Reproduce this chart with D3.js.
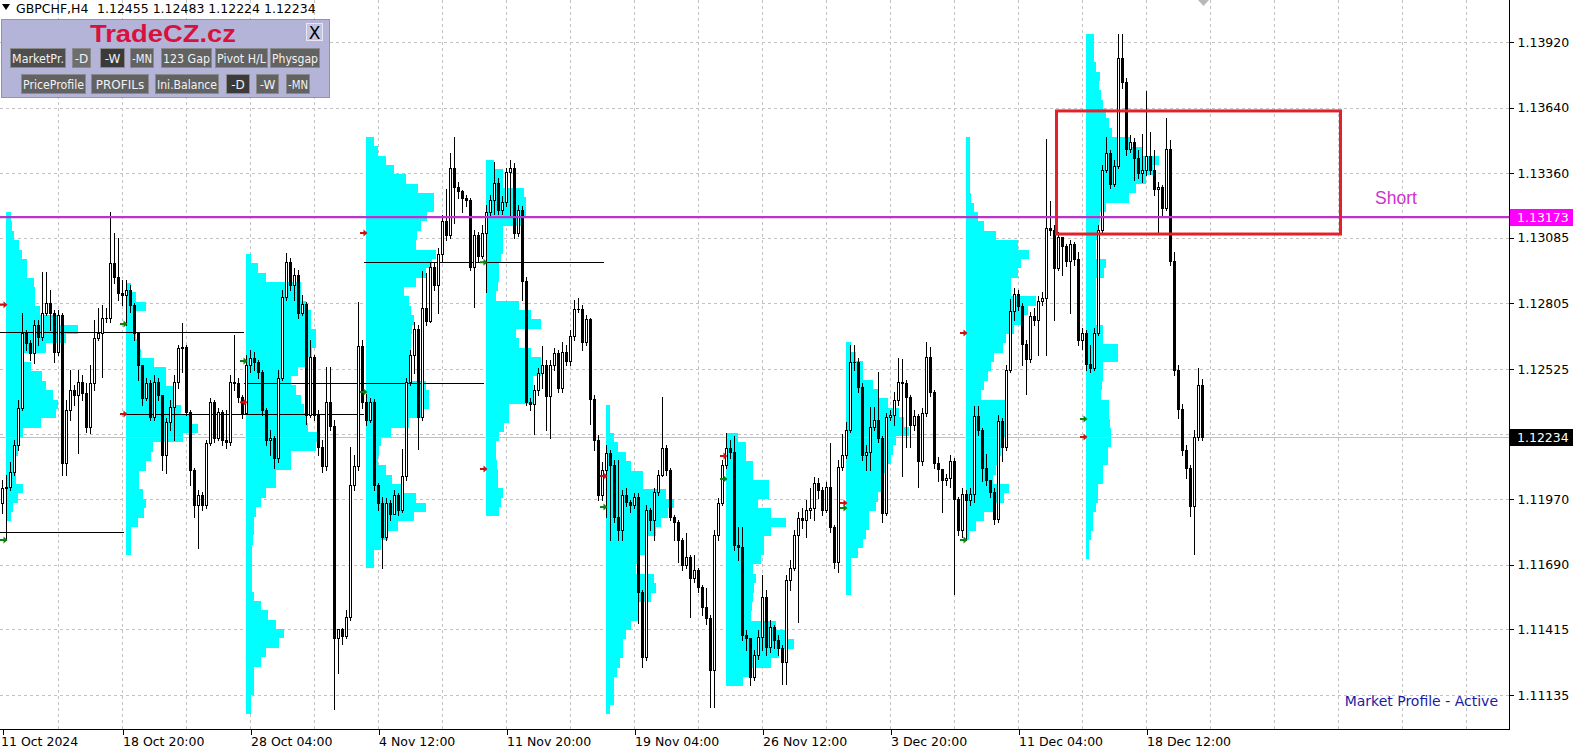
<!DOCTYPE html>
<html><head><meta charset="utf-8">
<script src="https://cdn.jsdelivr.net/npm/d3@7"></script>
<style>html,body{margin:0;padding:0;background:#fff;overflow:hidden}svg{display:block}</style>
</head><body><svg id="c" width="1578" height="756"></svg>
<script>
// ---------------- DATA ----------------
const symbolTitle = "GBPCHF,H4";
const headerQuote = "1.12455 1.12483 1.12224 1.12234";
const firstOpen = 1.11954;
// H4 closes, bar 0 = 11 Oct 20:00, then one line per week (30 bars)
const closes = [
1.12018,1.12022,1.12085,1.12201,1.12359,1.12679,1.12636,1.12593,1.12713,1.12662,1.12764,1.12807,1.12764,1.12597,1.12756,1.12124,1.12350,1.12436,1.12415,1.12470,1.12423,1.12278,1.12465,1.12658,1.12679,1.12743,1.12743,1.12977,1.12918,1.12850,1.12841,
1.12862,1.12799,1.12679,1.12543,1.12402,1.12465,1.12320,1.12470,1.12415,1.12159,1.12299,1.12363,1.12470,1.12615,1.12619,1.12342,1.12094,1.11946,1.11988,1.11946,1.12209,1.12384,1.12231,1.12342,1.12222,1.12213,1.12470,1.12465,1.12406,1.12338,
1.12543,1.12572,1.12555,1.12513,1.12350,1.12222,1.12231,1.12146,1.12487,1.12833,1.12981,1.12884,1.12926,1.12764,1.12803,1.12329,1.12577,1.12329,1.12192,1.12111,1.12384,1.12282,1.11378,1.11416,1.11386,1.11467,1.12031,1.12111,1.12623,1.12384,
1.12308,1.12384,1.12031,1.11954,1.11809,1.11954,1.11907,1.11988,1.11924,1.12069,1.12470,1.12585,1.12696,1.12320,1.12786,1.12730,1.12960,1.12884,1.13016,1.13156,1.13097,1.13383,1.13302,1.13284,1.13254,1.13246,1.12960,1.13097,1.13007,1.13105,
1.13195,1.13246,1.13319,1.13203,1.13237,1.13366,1.13383,1.13105,1.13203,1.12901,1.12384,1.12376,1.12436,1.12508,1.12543,1.12410,1.12543,1.12593,1.12444,1.12597,1.12560,1.12666,1.12781,1.12781,1.12640,1.12739,1.12397,1.12222,1.11988,1.12094,
1.12167,1.12116,1.11894,1.11839,1.11988,1.11958,1.11946,1.11980,1.11574,1.11297,1.11924,1.11881,1.12001,1.12073,1.12188,1.12094,1.11894,1.11873,1.11796,1.11689,1.11723,1.11634,1.11668,1.11595,1.11510,1.11463,1.11241,1.11817,1.11954,1.12116,
1.12188,1.12171,1.11775,1.11766,1.11391,1.11378,1.11211,1.11305,1.11382,1.11553,1.11339,1.11425,1.11369,1.11335,1.11275,1.11625,1.11677,1.11817,1.11890,1.11881,1.11924,1.11933,1.12039,1.12009,1.11924,1.12022,1.11852,1.11702,1.12107,1.12159,
1.12265,1.12555,1.12555,1.12449,1.12159,1.12171,1.12278,1.12308,1.12231,1.11911,1.12320,1.12329,1.12393,1.12470,1.12465,1.12406,1.12286,1.12325,1.12133,1.12338,1.12577,1.12427,1.12124,1.12099,1.12052,1.12060,1.12133,1.11971,1.11839,1.11992,
1.11967,1.11992,1.12325,1.12265,1.12103,1.12052,1.12001,1.11886,1.12303,1.12192,1.12521,1.12773,1.12845,1.12794,1.12632,1.12568,1.12751,1.12734,1.12816,1.12828,1.13127,1.13118,1.12956,1.13088,1.13050,1.12986,1.13058,1.12994,1.12649,1.12679,
1.12547,1.12530,1.12679,1.13118,1.13374,1.13446,1.13314,1.13391,1.13852,1.13749,1.13463,1.13493,1.13425,1.13361,1.13374,1.13434,1.13374,1.13293,1.13302,1.13212,1.13463,1.12986,1.12521,1.12355,1.12180,1.12103,1.11941,1.12235,1.12455,1.12234];
const highs = [
1.12052,1.12073,1.12128,1.12222,1.12393,1.12764,1.12692,1.12649,1.12734,1.12734,1.12938,1.12938,1.12862,1.12777,1.12777,1.12764,1.12393,1.12521,1.12457,1.12521,1.12500,1.12465,1.12543,1.12734,1.12786,1.12799,1.12786,1.13195,1.13105,1.13084,1.12905,
1.12905,1.12884,1.12807,1.12679,1.12543,1.12487,1.12478,1.12500,1.12487,1.12415,1.12316,1.12393,1.12500,1.12628,1.12722,1.12628,1.12350,1.12103,1.12009,1.12001,1.12222,1.12402,1.12393,1.12359,1.12350,1.12350,1.12500,1.12670,1.12487,1.12415,
1.12585,1.12606,1.12597,1.12564,1.12521,1.12359,1.12265,1.12239,1.12521,1.12862,1.13020,1.12999,1.12956,1.12947,1.12841,1.12811,1.12649,1.12585,1.12350,1.12222,1.12534,1.12534,1.12308,1.11403,1.11420,1.11497,1.12192,1.12159,1.12811,1.12649,
1.12419,1.12402,1.12397,1.12039,1.11980,1.11975,1.11967,1.12009,1.11997,1.12184,1.12487,1.12606,1.12726,1.12713,1.12943,1.12935,1.12981,1.12981,1.13041,1.13182,1.13293,1.13446,1.13515,1.13323,1.13289,1.13267,1.13254,1.13118,1.13110,1.13139,
1.13225,1.13267,1.13408,1.13340,1.13263,1.13383,1.13417,1.13404,1.13225,1.13220,1.12918,1.12402,1.12457,1.12530,1.12624,1.12564,1.12564,1.12615,1.12606,1.12640,1.12628,1.12692,1.12820,1.12828,1.12799,1.12756,1.12743,1.12415,1.12243,1.12128,
1.12201,1.12180,1.12137,1.12137,1.12009,1.12018,1.11967,1.11997,1.11997,1.11582,1.11946,1.11933,1.12018,1.12094,1.12406,1.12201,1.12103,1.11903,1.11881,1.11805,1.11826,1.11732,1.11732,1.11677,1.11604,1.11591,1.11476,1.11839,1.11975,1.12137,
1.12252,1.12222,1.12239,1.11852,1.11852,1.11412,1.11305,1.11327,1.11412,1.11647,1.11582,1.11455,1.11433,1.11391,1.11348,1.11647,1.11711,1.11839,1.11916,1.11933,1.11967,1.12018,1.12065,1.12060,1.12022,1.12043,1.12209,1.11860,1.12137,1.12248,
1.12299,1.12628,1.12628,1.12572,1.12465,1.12201,1.12363,1.12363,1.12513,1.12239,1.12337,1.12350,1.12427,1.12572,1.12568,1.12478,1.12415,1.12350,1.12333,1.12359,1.12640,1.12619,1.12436,1.12150,1.12094,1.12077,1.12159,1.12146,1.11980,1.12018,
1.12009,1.12018,1.12368,1.12368,1.12274,1.12163,1.12052,1.12018,1.12329,1.12316,1.12543,1.12824,1.12871,1.12862,1.12807,1.12649,1.12769,1.12786,1.12837,1.12854,1.13506,1.13242,1.13139,1.13110,1.13075,1.13058,1.13075,1.13067,1.13024,1.12700,
1.12692,1.12628,1.12700,1.13139,1.13396,1.13515,1.13459,1.13417,1.13954,1.13954,1.13766,1.13523,1.13510,1.13459,1.13527,1.13711,1.13536,1.13459,1.13323,1.13310,1.13595,1.13502,1.13024,1.12543,1.12376,1.12201,1.12116,1.12265,1.12530,1.12483];
const lows = [
1.11911,1.11796,1.12009,1.12073,1.12180,1.12350,1.12606,1.12564,1.12551,1.12628,1.12649,1.12756,1.12692,1.12555,1.12585,1.12073,1.12073,1.12308,1.12372,1.12167,1.12393,1.12256,1.12252,1.12436,1.12649,1.12491,1.12726,1.12726,1.12892,1.12820,1.12799,
1.12713,1.12769,1.12649,1.12478,1.12372,1.12393,1.12308,1.12308,1.12393,1.12094,1.12081,1.12265,1.12222,1.12444,1.12513,1.12329,1.12031,1.11894,1.11762,1.11924,1.11933,1.12201,1.12213,1.12222,1.12201,1.12188,1.12201,1.12436,1.12384,1.12316,
1.12372,1.12513,1.12521,1.12487,1.12329,1.12201,1.12159,1.12103,1.12128,1.12478,1.12820,1.12862,1.12820,1.12743,1.12756,1.12290,1.12320,1.12308,1.12159,1.12085,1.12094,1.12265,1.11075,1.11228,1.11352,1.11378,1.11455,1.12009,1.12094,1.12359,
1.12286,1.12299,1.12009,1.11924,1.11677,1.11796,1.11881,1.11924,1.11903,1.11916,1.12052,1.12457,1.12508,1.12184,1.12308,1.12713,1.12726,1.12862,1.12764,1.12981,1.13075,1.13084,1.13148,1.13254,1.13195,1.13220,1.12947,1.12790,1.12981,1.12999,
1.12854,1.13178,1.13186,1.13186,1.13186,1.13220,1.13178,1.13084,1.13092,1.12820,1.12372,1.12350,1.12248,1.12415,1.12444,1.12265,1.12231,1.12521,1.12427,1.12427,1.12543,1.12543,1.12649,1.12769,1.12606,1.12628,1.12290,1.12180,1.11967,1.11967,
1.11894,1.11796,1.11873,1.11796,1.11796,1.11941,1.11916,1.11933,1.11441,1.11254,1.11284,1.11839,1.11796,1.11988,1.12069,1.12073,1.11881,1.11796,1.11702,1.11668,1.11677,1.11467,1.11617,1.11574,1.11476,1.11437,1.11083,1.11083,1.11796,1.11946,
1.12103,1.12146,1.11753,1.11711,1.11369,1.11327,1.11177,1.11199,1.11288,1.11327,1.11305,1.11318,1.11335,1.11305,1.11182,1.11182,1.11582,1.11668,1.11446,1.11847,1.11809,1.11890,1.11881,1.11975,1.11903,1.11916,1.11830,1.11677,1.11659,1.12094,
1.12146,1.12256,1.12521,1.12427,1.12137,1.12094,1.12094,1.12265,1.12213,1.11873,1.11903,1.12308,1.12286,1.12372,1.12069,1.12192,1.12192,1.12265,1.12022,1.12116,1.12325,1.12410,1.12103,1.12048,1.11916,1.12031,1.12022,1.11566,1.11817,1.11809,
1.11796,1.11946,1.11958,1.12243,1.12048,1.12031,1.11980,1.11864,1.11873,1.12133,1.12180,1.12513,1.12734,1.12777,1.12543,1.12419,1.12555,1.12713,1.12585,1.12799,1.12585,1.13097,1.12734,1.12947,1.12926,1.12964,1.12764,1.12969,1.12628,1.12610,
1.12521,1.12513,1.12521,1.12670,1.13110,1.13366,1.13297,1.13306,1.13383,1.13724,1.13438,1.13451,1.13331,1.13340,1.13323,1.13353,1.13357,1.13267,1.13110,1.13182,1.13203,1.12969,1.12500,1.12316,1.12159,1.12060,1.11899,1.11736,1.12222,1.12224];

// weekly market profiles: first bar of week, top price, TPO counts per 0.0004 level (top -> bottom)
const profStart = [1,31,61,91,121,151,181,211,241,271];
const profTop = [1.13195,1.12892,1.13016,1.13515,1.13417,1.12372,1.12252,1.12640,1.13515,1.13954];
const profStep = 0.0004;
const prof0 = [5,6,8,13,16,21,21,28,29,29,34,52,72,60,40,17,25,36,40,47,52,50,35,17,14,12,10,10,10,17,12,7,5];
const prof1 = [5,10,20,8,10,10,12,15,28,40,40,47,47,55,65,72,57,27,25,20,13,13,17,20,18,12,5,5,5];
const prof2 = [5,12,20,55,55,60,65,65,70,70,66,62,52,45,50,55,58,60,62,73,70,45,45,30,30,20,15,10,8,8,7,6,6,6,6,6,8,15,22,30,38,33,20,15,8,8,8,5,5];
const prof3 = [8,12,20,28,40,52,68,68,61,55,51,50,70,66,60,50,38,43,45,48,46,45,45,45,45,45,60,63,63,55,43,25,15,13,12,20,26,35,50,60,48,32,22,15,8,8];
const prof4 = [8,17,17,38,40,40,37,17,17,17,15,13,13,12,10,33,45,55,30,33,45,55,55,47,47,47,23,23,18,13,10,10,11,12,12,17,15,13];
const prof5 = [4,4,4,8,12,20,25,37,37,60,68,62,55,50,42,40,33,30,48,50,45,32,32,25,20,17,17,14,11,8,8,8,4];
const prof6 = [12,20,20,27,27,43,43,32,45,60,45,38,38,35,27,30,28,27,26,25,50,60,68,53,45,25,17];
const prof7 = [5,10,17,17,27,33,42,53,58,63,50,47,45,42,37,35,32,30,23,23,20,17,12,5,5,5,5];
const prof8 = [4,4,4,4,4,4,5,8,12,18,30,52,63,55,52,45,45,70,62,57,48,40,37,28,25,22,18,15,40,40,42,40,37,35,33,30,27,43,38,27,18,10,3];
const prof9 = [8,8,8,10,14,13,15,17,20,23,26,45,57,73,67,60,50,43,20,14,13,12,10,10,20,18,10,10,10,10,10,17,17,32,32,17,17,16,15,23,23,24,25,25,22,22,17,17,12,12,10,7,7,5,3,3];
const profiles = [prof0,prof1,prof2,prof3,prof4,prof5,prof6,prof7,prof8,prof9];

// previous-week POC lines: [price, fromBar, toBar]
const pocLines = [[1.12683,0,61],[1.11830,0,31],[1.12333,31,91],[1.12465,61,121],[1.12981,91,151]];
// week-open markers
const arrowBars = [1,31,61,91,121,151,181,211,241,271];
const redArrows = [1.12799,1.12333,1.12384,1.13105,1.12099,1.12069,1.12154,1.11954,1.12679,1.12235];
const greenArrows = [1.11796,1.12717,1.12560,1.12427,1.12981,1.11937,1.12056,1.11933,1.11796,1.12312];

const levelPrice = 1.13173, levelText = "Short";
const shortZone = {top:1.13626, bottom:1.13101, from:263.5, to:334.5};
const lastPrice = 1.12234;

const priceTicks = [1.13920,1.13640,1.13360,1.13085,1.12805,1.12525,1.12250,1.11970,1.11690,1.11415,1.11135];
const timeBars = [0,30,62,94,126,158,190,222,254,286];
const timeLabels = ["11 Oct 2024","18 Oct 20:00","28 Oct 04:00","4 Nov 12:00","11 Nov 20:00","19 Nov 04:00","26 Nov 12:00","3 Dec 20:00","11 Dec 04:00","18 Dec 12:00"];

// ---------------- DRAW ----------------
const W=1578,H=756,PL=1509,PB=729;
const FONT="'DejaVu Sans', Verdana, sans-serif";
const svg=d3.select('#c');
svg.append('rect').attr('width',W).attr('height',H).attr('fill','#fff');

const x=d3.scaleLinear().domain([0,300]).range([2.5,1202.5]);
const y=d3.scaleLinear().domain([1.11135,1.13920]).range([695,42]);
const tpo=d3.scaleLinear().domain([0,10]).range([0,10]);
const ry=p=>Math.round(y(p));

const plot=svg.append('g');
svg.append('clipPath').attr('id','pc').append('rect').attr('x',0).attr('y',0).attr('width',PL).attr('height',PB);
plot.attr('clip-path','url(#pc)');

// grid
const grid=plot.append('g').attr('stroke','#c2c2c2').attr('stroke-dasharray','3,3').attr('shape-rendering','crispEdges');
priceTicks.forEach(p=>grid.append('line').attr('x1',0).attr('x2',PL).attr('y1',ry(p)+0.5).attr('y2',ry(p)+0.5));
d3.range(14,372,16).forEach(b=>grid.append('line').attr('x1',x(b)).attr('x2',x(b)).attr('y1',0).attr('y2',PB));

// profiles
const pg=plot.append('g').attr('fill','#00ffff').attr('shape-rendering','crispEdges');
profiles.forEach((cnts,w)=>{
  const x0=Math.floor(x(profStart[w]));
  cnts.forEach((c,k)=>{
    const y0=ry(profTop[w]-k*profStep), y1=ry(profTop[w]-(k+1)*profStep);
    pg.append('rect').attr('x',x0).attr('y',y0).attr('width',Math.round(tpo(c))).attr('height',y1-y0);
  });
});

// POC lines
pocLines.forEach(([p,a,b])=>{
  plot.append('line').attr('x1',Math.max(0,x(a)-2.5)).attr('x2',x(b)-2.5).attr('y1',ry(p)+0.5).attr('y2',ry(p)+0.5)
    .attr('stroke','#000').attr('shape-rendering','crispEdges');
});

// current price line
plot.append('line').attr('x1',0).attr('x2',PL).attr('y1',ry(lastPrice)+0.5).attr('y2',ry(lastPrice)+0.5)
  .attr('stroke','#c0c0c0').attr('shape-rendering','crispEdges');

// candles
const cg=plot.append('g').attr('shape-rendering','crispEdges');
const bars=closes.map((c,i)=>{const o=i===0?firstOpen:closes[i-1];return {i,o,c,h:Math.max(highs[i],o,c),l:Math.min(lows[i],o,c)};});
bars.forEach(d=>{
  cg.append('line').attr('x1',x(d.i)).attr('x2',x(d.i)).attr('y1',ry(d.h)).attr('y2',ry(d.l)+1).attr('stroke','#000');
});
bars.forEach(d=>{
  const t=ry(Math.max(d.o,d.c)), b=ry(Math.min(d.o,d.c));
  if(b-t<1){
    cg.append('line').attr('x1',x(d.i)-1.5).attr('x2',x(d.i)+1.5).attr('y1',t+0.5).attr('y2',t+0.5).attr('stroke','#000');
  } else {
    cg.append('rect').attr('x',x(d.i)-1).attr('y',t+0.5).attr('width',2).attr('height',b-t)
      .attr('fill',d.c>d.o?'#fff':'#000').attr('stroke','#000');
  }
});

// arrows
const arrowPath='M-6,-1 h3.5 v-2.5 l4,3.5 l-4,3.5 v-2.5 h-3.5 z';
arrowBars.forEach((b,k)=>{
  plot.append('path').attr('d',arrowPath).attr('transform',`translate(${x(b)-0.5},${y(redArrows[k])})`).attr('fill','#d01010');
  plot.append('path').attr('d',arrowPath).attr('transform',`translate(${x(b)-0.5},${y(greenArrows[k])})`).attr('fill','#108010');
});

// level line
plot.append('line').attr('x1',0).attr('x2',PL).attr('y1',y(levelPrice)).attr('y2',y(levelPrice))
  .attr('stroke','#bb33cc').attr('stroke-width',2.4);
// short zone
plot.append('rect').attr('x',x(shortZone.from)).attr('y',y(shortZone.top)).attr('width',x(shortZone.to)-x(shortZone.from))
  .attr('height',y(shortZone.bottom)-y(shortZone.top)).attr('fill','none').attr('stroke','#e3202c').attr('stroke-width',3);
plot.append('text').attr('x',1396).attr('y',y(levelPrice)-13).attr('text-anchor','middle')
  .attr('font-family',"'Liberation Sans', Arial, sans-serif").attr('font-size',17.5).attr('fill','#cc33cc').text(levelText);

plot.append('text').attr('x',1498).attr('y',706).attr('text-anchor','end').attr('font-family',FONT)
  .attr('font-size',14).attr('fill','#1a1aa6').text('Market Profile - Active');

// axes
const ya=d3.axisRight(y).tickValues(priceTicks.filter(p=>Math.abs(y(p)-y(lastPrice))>10)).tickFormat(d3.format('.5f')).tickSize(4).tickPadding(4);
const gy=svg.append('g').attr('transform',`translate(${PL+0.5},0)`).call(ya);
gy.select('.domain').remove();
gy.selectAll('.tick line').attr('stroke','#000').attr('shape-rendering','crispEdges');
gy.selectAll('.tick text').attr('font-family',FONT).attr('font-size',12.5).attr('fill','#000');

const xa=d3.axisBottom(x).tickValues(timeBars).tickFormat((d,i)=>timeLabels[i]).tickSize(5).tickPadding(3);
const gx=svg.append('g').attr('transform',`translate(0,${PB+0.5})`).call(xa);
gx.select('.domain').remove();
gx.selectAll('.tick line').attr('stroke','#000').attr('shape-rendering','crispEdges');
gx.selectAll('.tick text').attr('font-family',FONT).attr('font-size',12.5).attr('fill','#000')
  .attr('text-anchor','start').attr('x',(d,i)=>i===0?-2:0);

svg.append('line').attr('x1',PL+0.5).attr('x2',PL+0.5).attr('y1',0).attr('y2',PB+1).attr('stroke','#000').attr('shape-rendering','crispEdges');
svg.append('line').attr('x1',0).attr('x2',PL+1).attr('y1',PB+0.5).attr('y2',PB+0.5).attr('stroke','#000').attr('shape-rendering','crispEdges');

// axis price boxes
function priceBox(p,fill){
  const cy=y(p);
  svg.append('rect').attr('x',PL+1).attr('y',Math.round(cy)-8).attr('width',63).attr('height',17).attr('fill',fill);
  svg.append('text').attr('x',PL+8).attr('y',cy).attr('dy','0.36em').attr('font-family',FONT).attr('font-size',12.5)
    .attr('fill','#fff').text(d3.format('.5f')(p));
}
priceBox(levelPrice,'#ff00ff');
priceBox(lastPrice,'#000');

// chart shift marker
svg.append('path').attr('d','M1198,0 L1209,0 L1203.5,6 Z').attr('fill','#b8b8b8');

// header
svg.append('path').attr('d','M2,4 L10,4 L6,10 Z').attr('fill','#000');
svg.append('text').attr('x',16).attr('y',13).attr('font-family',FONT).attr('font-size',12.5).attr('fill','#000').text(symbolTitle);
svg.append('text').attr('x',97).attr('y',13).attr('font-family',FONT).attr('font-size',12.5).attr('fill','#000').text(headerQuote);

// control panel
const panel=svg.append('g');
panel.append('rect').attr('x',1.5).attr('y',19.5).attr('width',328).attr('height',78).attr('fill','#b4b4d9').attr('stroke','#8f8fc2');
panel.append('text').attr('x',163).attr('y',42).attr('text-anchor','middle').attr('font-family',"'Liberation Sans', Arial, sans-serif")
  .attr('font-weight','bold').attr('font-size',23).attr('fill','#d8123c').attr('textLength',146).attr('lengthAdjust','spacingAndGlyphs').text('TradeCZ.cz');
panel.append('rect').attr('x',306.5).attr('y',23.5).attr('width',16).attr('height',17).attr('fill','#c4c4e2').attr('stroke','#e8e8f4');
panel.append('text').attr('x',314.5).attr('y',39).attr('text-anchor','middle').attr('font-family',FONT).attr('font-size',17).attr('fill','#000').text('X');
const btns=[["MarketPr.",10,65,48,'#4e4e4e'],["-D",72,90,48,'#6e6e6e'],["-W",100,124,48,'#3a3a3a'],["-MN",130,153,48,'#626262'],["123 Gap",161,211,48,'#626262'],["Pivot H/L",215,267,48,'#626262'],["Physgap",270,319,48,'#626262'],
 ["PriceProfile",21,85,74,'#626262'],["PROFILs",91,148,74,'#626262'],["Ini.Balance",155,218,74,'#626262'],["-D",226,249,74,'#3a3a3a'],["-W",256,278,74,'#626262'],["-MN",286,309,74,'#626262']];
btns.forEach(([t,a,b,top,f])=>{
  panel.append('rect').attr('x',a+0.5).attr('y',top+0.5).attr('width',b-a).attr('height',19).attr('fill',f).attr('stroke','#8a8a8a');
  const tx=panel.append('text').attr('x',(a+b)/2+0.5).attr('y',top+14.5).attr('text-anchor','middle').attr('font-family',FONT)
    .attr('font-size',12).attr('fill','#f2f2f2').text(t);
  const w=tx.node().getComputedTextLength();
  if(w>b-a-3) tx.attr('textLength',b-a-3).attr('lengthAdjust','spacingAndGlyphs');
});
</script></body></html>
